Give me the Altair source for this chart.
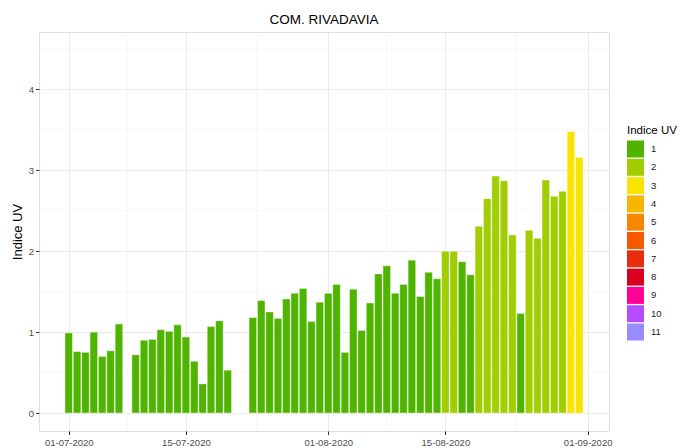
import altair as alt
import pandas as pd

# ---- data ----
days = (
    ["2020-07-%02d" % d for d in [1, 2, 3, 4, 5, 6, 7]]
    + ["2020-07-%02d" % d for d in range(9, 21)]
    + ["2020-07-%02d" % d for d in range(23, 32)]
    + ["2020-08-%02d" % d for d in range(1, 32)]
)
uv_values = [
    0.99, 0.76, 0.75, 1.00, 0.70, 0.77, 1.10,
    0.72, 0.90, 0.91, 1.03, 1.01, 1.09, 0.94, 0.64, 0.36, 1.07, 1.14, 0.53,
    1.18, 1.39, 1.25, 1.17, 1.41, 1.48, 1.54, 1.13, 1.37,
    1.48, 1.59, 0.75, 1.53, 1.02, 1.36, 1.72, 1.82, 1.48, 1.59, 1.89, 1.44,
    1.74, 1.66, 2.00, 2.00, 1.87, 1.71, 2.31, 2.65, 2.93, 2.87, 2.20, 1.23,
    2.26, 2.16, 2.88, 2.68, 2.74, 3.48, 3.16,
]
uv_class = [
    1, 1, 1, 1, 1, 1, 1,
    1, 1, 1, 1, 1, 1, 1, 1, 1, 1, 1, 1,
    1, 1, 1, 1, 1, 1, 1, 1, 1,
    1, 1, 1, 1, 1, 1, 1, 1, 1, 1, 1, 1,
    1, 1, 2, 2, 1, 1, 2, 2, 2, 2, 2, 1,
    2, 2, 2, 2, 2, 3, 3,
]
class_labels = [str(i) for i in range(1, 12)]
class_colors = ["#4EB400", "#A0CE00", "#F7E400", "#F8B600", "#F88700", "#F85900",
                "#E82C0E", "#D8001D", "#FF0099", "#B54CFF", "#998CFF"]

y_major = [0, 1, 2, 3, 4]
y_minor = [0.5, 1.5, 2.5, 3.5, 4.5]
x_major = [(2020, 7, 1), (2020, 7, 15), (2020, 8, 1), (2020, 8, 15), (2020, 9, 1)]
x_minor = ["2020-07-08T00:00:00", "2020-07-23T12:00:00", "2020-08-08T00:00:00", "2020-08-23T12:00:00"]

# ---- tables ----
dates = pd.to_datetime(days, format="%Y-%m-%d")
half = pd.Timedelta(hours=10.8)
df = pd.DataFrame({
    "ini": (dates - half).strftime("%Y-%m-%dT%H:%M:%S"),
    "fin": (dates + half).strftime("%Y-%m-%dT%H:%M:%S"),
    "uv": uv_values,
    "indice": [str(c) for c in uv_class],
})
df_ymin = pd.DataFrame({"y": y_minor})
df_xmin = pd.DataFrame({"x": x_minor})

x_scale = alt.Scale(domain=[alt.DateTime(year=2020, month=6, date=27, hours=10, minutes=48),
                            alt.DateTime(year=2020, month=9, date=3, hours=13, minutes=12)])
y_scale = alt.Scale(domain=[-0.222, 4.71], nice=False, zero=False)

x_axis = alt.Axis(values=[alt.DateTime(year=a, month=b, date=c) for a, b, c in x_major],
                  format="%d-%m-%Y", title=None, grid=True, gridColor="#EBEBEB", gridWidth=1,
                  domain=False, tickColor="#333333", tickSize=3.5, labelFontSize=9.5,
                  labelColor="#4D4D4D", labelPadding=2.5, labelFont="Liberation Sans")
y_axis = alt.Axis(values=y_major, title="Indice UV", grid=True, gridColor="#EBEBEB", gridWidth=1,
                  domain=False, tickColor="#333333", tickSize=3.5, labelFontSize=9.5,
                  labelColor="#4D4D4D", labelPadding=2, titleFontSize=13, titleFontWeight="normal",
                  titleColor="#000000", titlePadding=4, labelFont="Liberation Sans",
                  titleFont="Liberation Sans")

minor_y = alt.Chart(df_ymin).mark_rule(color="#F2F2F2", strokeWidth=0.6).encode(
    y=alt.Y("y:Q", scale=y_scale, axis=y_axis)
)
minor_x = alt.Chart(df_xmin).mark_rule(color="#F2F2F2", strokeWidth=0.6).encode(
    x=alt.X("x:T", scale=x_scale, axis=x_axis)
)
bars = alt.Chart(df).mark_bar(stroke="white", strokeWidth=0.4).encode(
    x=alt.X("ini:T", scale=x_scale, axis=x_axis),
    x2="fin:T",
    y=alt.Y("uv:Q", scale=y_scale, axis=y_axis),
    y2=alt.datum(0),
    color=alt.Color("indice:N", scale=alt.Scale(domain=class_labels, range=class_colors),
                    legend=alt.Legend(title="Indice UV", orient="none", legendX=588, legendY=93,
                                      symbolType="square", symbolSize=289, symbolStrokeWidth=0,
                                      rowPadding=1.3, labelFontSize=9.5, labelOffset=7,
                                      titleFontSize=11.5, titleFontWeight="normal",
                                      titlePadding=4, padding=0, labelColor="#1A1A1A",
                                      titleColor="#000000", labelFont="Liberation Sans",
                                      titleFont="Liberation Sans")),
)

chart = alt.layer(minor_y, minor_x, bars).properties(
    width=570, height=399,
    title=alt.TitleParams("COM. RIVADAVIA", anchor="middle", fontSize=13.5, fontWeight="normal",
                          font="Liberation Sans", color="#000000", offset=5),
    autosize=alt.AutoSizeParams(type="none"),
    padding={"left": 31, "top": 24, "right": 71, "bottom": 17},
).configure_view(stroke="#8C8C8C", strokeWidth=1).configure(background="white")

chart.save("out.html", embed_options={"renderer": "svg", "actions": False})
